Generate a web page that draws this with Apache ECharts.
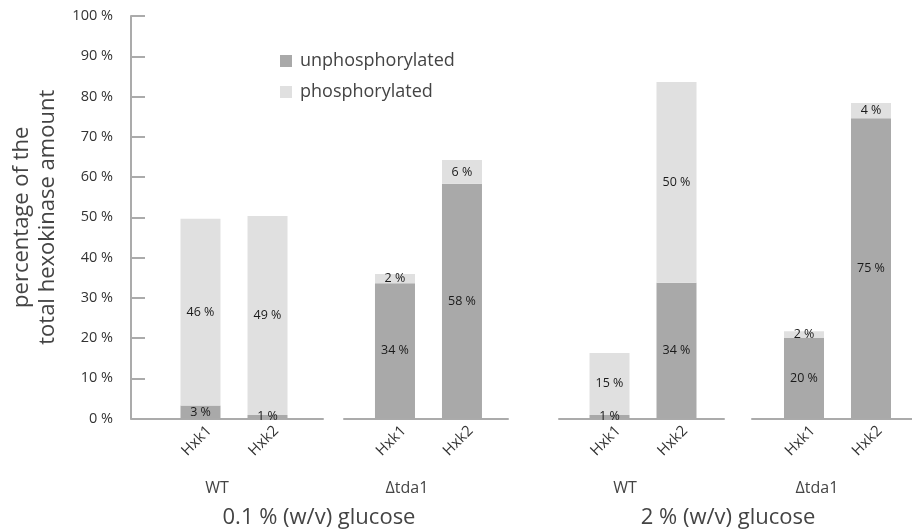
<!DOCTYPE html>
<html>
<head>
<meta charset="utf-8">
<script src="https://cdn.jsdelivr.net/npm/echarts@6/dist/echarts.min.js"></script>
<style>
html,body{margin:0;padding:0;background:#fff;}
#chart{width:912px;height:531px;}
</style>
</head>
<body>
<div id="chart"></div>
<script>
// ---- data ----
const categories = ['Hxk1', 'Hxk2'];
const groupNames = ['WT', '\u0394tda1', 'WT', '\u0394tda1'];
const conditions = ['0.1 % (w/v) glucose', '2 % (w/v) glucose'];
const seriesNames = ['unphosphorylated', 'phosphorylated'];
const unphosWT01 = [3.2, 0.9];
const phosWT01 = [46.4, 49.4];
const unphosTda01 = [33.6, 58.3];
const phosTda01 = [2.3, 5.9];
const unphosWT2 = [0.9, 33.7];
const phosWT2 = [15.4, 49.9];
const unphosTda2 = [20.0, 74.6];
const phosTda2 = [1.7, 3.8];
const yTicks = [0, 10, 20, 30, 40, 50, 60, 70, 80, 90, 100];

const unphos = [unphosWT01, unphosTda01, unphosWT2, unphosTda2];
const phos = [phosWT01, phosTda01, phosWT2, phosTda2];

// ---- layout ----
const FONT = 'Open Sans';
const gridTop = 16, gridHeight = 402.5;
const grids = [
  {left: 131, width: 192, min: -1.037, max: 1.828},
  {left: 344, width: 164, min: -0.761, max: 1.687},
  {left: 559, width: 165, min: -0.754, max: 1.709},
  {left: 752, width: 160, min: -0.776, max: 1.612}
];
const labelShift = 0.13;
const groupLabelPos = [[217, 488], [407, 488], [625, 488], [817, 488]];
const condLabelPos = [[319, 518], [728, 518]];
const colors = ['#a9a9a9', '#e0e0e0'];
const axisColor = '#ababab';

const chart = echarts.init(document.getElementById('chart'));

const option = {
  animation: false,
  backgroundColor: '#fff',
  textStyle: {fontFamily: FONT},
  legend: {
    orient: 'vertical',
    left: 280,
    top: 52,
    padding: 0,
    itemWidth: 12,
    itemHeight: 12,
    itemGap: 13,
    icon: 'rect',
    data: seriesNames,
    textStyle: {fontFamily: FONT, fontSize: 18, color: '#444', padding: [0, 0, 0, 3]}
  },
  grid: grids.map(g => ({left: g.left, width: g.width, top: gridTop, height: gridHeight})),
  xAxis: grids.map((g, i) => ({
    type: 'value',
    gridIndex: i,
    min: g.min,
    max: g.max,
    axisLine: {show: true, onZero: true, lineStyle: {color: axisColor, width: 2}},
    axisTick: {show: false},
    splitLine: {show: false},
    axisLabel: {
      customValues: [0 + labelShift, 1 + labelShift],
      rotate: 45,
      margin: 10,
      fontFamily: FONT,
      fontSize: 15,
      color: '#333',
      formatter: v => categories[Math.round(v)]
    }
  })),
  yAxis: grids.map((g, i) => i === 0 ? {
    type: 'value',
    gridIndex: 0,
    min: yTicks[0],
    max: yTicks[yTicks.length - 1],
    interval: 10,
    name: 'percentage of the\ntotal hexokinase amount',
    nameLocation: 'middle',
    nameGap: 70,
    nameTextStyle: {fontFamily: FONT, fontSize: 22, color: '#444', lineHeight: 26},
    axisLine: {show: true, onZero: false, lineStyle: {color: axisColor, width: 2}},
    axisTick: {show: true, inside: true, length: 14, lineStyle: {color: axisColor, width: 2}},
    splitLine: {show: false},
    axisLabel: {
      margin: 18,
      fontFamily: FONT,
      fontSize: 14.5,
      color: '#333',
      formatter: v => v + ' %'
    }
  } : {
    type: 'value',
    gridIndex: i,
    min: 0,
    max: 100,
    show: false,
    axisLine: {onZero: false}
  }),
  series: [],
  graphic: []
};

for (let g = 0; g < 4; g++) {
  [unphos[g], phos[g]].forEach((arr, s) => {
    option.series.push({
      name: seriesNames[s],
      type: 'bar',
      stack: 'g' + g,
      xAxisIndex: g,
      yAxisIndex: g,
      barWidth: 40,
      itemStyle: {color: colors[s]},
      encode: {x: 1, y: 0},
      label: {
        show: true,
        position: 'inside',
        fontFamily: FONT,
        fontSize: 12.5,
        color: '#1a1a1a',
        formatter: p => Math.round(p.value[0]) + ' %'
      },
      data: arr.map((v, i) => [v, i])
    });
  });
}

groupNames.forEach((t, i) => {
  option.graphic.push({
    type: 'text',
    x: groupLabelPos[i][0], y: groupLabelPos[i][1],
    style: {text: t, font: '16px "Open Sans"', fill: '#444', textAlign: 'center', textVerticalAlign: 'middle'}
  });
});
conditions.forEach((t, i) => {
  option.graphic.push({
    type: 'text',
    x: condLabelPos[i][0], y: condLabelPos[i][1],
    style: {text: t, font: '22px "Open Sans"', fill: '#444', textAlign: 'center', textVerticalAlign: 'middle'}
  });
});

chart.setOption(option);
</script>
</body>
</html>
